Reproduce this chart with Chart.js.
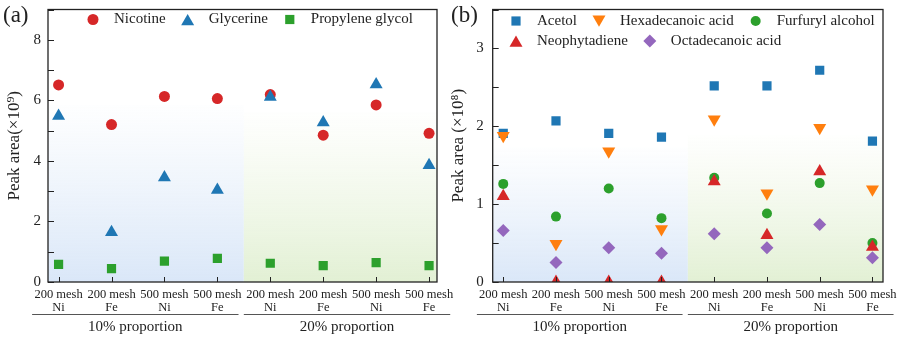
<!DOCTYPE html>
<html><head><meta charset="utf-8">
<script src="https://cdn.jsdelivr.net/npm/chart.js@4/dist/chart.umd.min.js"></script>
<style>
html,body{margin:0;padding:0;background:#fff;width:897px;height:337px;overflow:hidden}
#wa{position:absolute;left:0;top:0;width:462px;height:337px;z-index:1}
#wb{position:absolute;left:448px;top:0;width:449px;height:337px;z-index:2}
canvas{display:block}
</style></head><body>
<div id="wa"><canvas id="ca" width="462" height="337"></canvas></div>
<div id="wb"><canvas id="cb" width="449" height="337"></canvas></div>
<script>
// ---------- data ----------
const meshes = ['200 mesh','200 mesh','500 mesh','500 mesh','200 mesh','200 mesh','500 mesh','500 mesh'];
const metals = ['Ni','Fe','Ni','Fe','Ni','Fe','Ni','Fe'];
const groups = ['10% proportion','20% proportion'];

const nicotine        = [6.51,5.20,6.13,6.06,6.19,4.85,5.85,4.91];
const glycerine       = [5.48,1.64,3.45,3.04,6.11,5.27,6.52,3.86];
const propyleneGlycol = [0.58,0.44,0.69,0.78,0.62,0.54,0.64,0.54];

const acetol        = [1.91,2.07,1.91,1.86,2.52,2.52,2.72,1.81];
const hexadecanoic  = [1.88,0.49,1.68,0.68,2.09,1.14,1.98,1.19];
const furfuryl      = [1.26,0.84,1.20,0.82,1.34,0.88,1.27,0.50];
const neophytadiene = [1.10,0,0,0,1.29,0.60,1.42,0.45];
const octadecanoic  = [0.66,0.25,0.44,0.37,0.62,0.44,0.74,0.31];

const yTicksA = [0,1,2,3,4,5,6,7,8,9];
const yLabelsA = [0,2,4,6,8];
const yTicksB = [0,0.5,1,1.5,2,2.5,3,3.5];
const yLabelsB = [0,1,2,3];

// ---------- helpers ----------
const FONT = '"Liberation Serif","Times New Roman",serif';
const TXT = '#222';
Chart.defaults.font.family = FONT;
Chart.defaults.color = TXT;

function drawMarker(ctx, style, r, rot, color, x, y){
  ctx.save();
  ctx.fillStyle = color;
  ctx.translate(x, y);
  ctx.rotate((rot||0)*Math.PI/180);
  ctx.beginPath();
  if (style === 'circle') {
    ctx.arc(0,0,r,0,Math.PI*2);
  } else if (style === 'triangle') {
    ctx.moveTo(0,-r);
    ctx.lineTo(r*Math.sin(Math.PI/3), r*0.5);
    ctx.lineTo(-r*Math.sin(Math.PI/3), r*0.5);
    ctx.closePath();
  } else if (style === 'rect') {
    const s = r*Math.SQRT1_2;
    ctx.rect(-s,-s,2*s,2*s);
  } else if (style === 'rectRot') {
    ctx.moveTo(0,-r); ctx.lineTo(r,0); ctx.lineTo(0,r); ctx.lineTo(-r,0); ctx.closePath();
  }
  ctx.fill();
  ctx.restore();
}

const decorPlugin = {
  id: 'decor',
  beforeDatasetsDraw(chart, args, o) {
    const {ctx, chartArea: ca, scales: {x, y}} = chart;
    ctx.save();
    o.bands.forEach(b => {
      const x0 = x.getPixelForValue(b.from === null ? x.min : b.from);
      const x1 = x.getPixelForValue(b.to === null ? x.max : b.to);
      const yt = y.getPixelForValue(b.top);
      const g = ctx.createLinearGradient(0, yt, 0, ca.bottom);
      g.addColorStop(0, b.c0); g.addColorStop(1, b.c1);
      ctx.fillStyle = g;
      ctx.fillRect(x0, yt, x1 - x0, ca.bottom - yt);
    });
    ctx.restore();
  },
  afterDatasetsDraw(chart, args, o) {
    const {ctx, chartArea: ca, scales: {x, y}} = chart;
    ctx.save();
    ctx.strokeStyle = '#222';
    ctx.lineWidth = 1.3;
    ctx.strokeRect(ca.left, ca.top, ca.width, ca.height);
    ctx.lineWidth = 1;
    ctx.beginPath();
    y.ticks.forEach(t => {
      const py = Math.round(y.getPixelForValue(t.value)) + 0.5;
      ctx.moveTo(ca.left, py); ctx.lineTo(ca.left + 6, py);
    });
    x.ticks.forEach(t => {
      const px = Math.round(x.getPixelForValue(t.value)) + 0.5;
      ctx.moveTo(px, ca.bottom); ctx.lineTo(px, ca.bottom - 5);
    });
    ctx.stroke();
    // group lines + labels
    ctx.strokeStyle = '#555';
    ctx.fillStyle = TXT;
    ctx.font = '15px ' + FONT;
    ctx.textAlign = 'center';
    ctx.textBaseline = 'middle';
    groups.forEach((gname, gi) => {
      const first = gi * 4, last = gi * 4 + 3;
      const xa = x.getPixelForValue(first - 0.5), xb = x.getPixelForValue(last + 0.4);
      const ly = Math.round(ca.bottom + 32) + 0.5;
      ctx.beginPath(); ctx.moveTo(xa, ly); ctx.lineTo(xb, ly); ctx.stroke();
      ctx.fillText(gname, (xa + xb) / 2, ca.bottom + 45);
    });
    // panel label
    ctx.textAlign = 'left';
    ctx.font = '23px ' + FONT;
    ctx.fillText(o.panel, o.panelX, 16);
    // legend
    ctx.font = '15px ' + FONT;
    const ds = chart.data.datasets;
    let idx = 0;
    o.rows.forEach((n, ri) => {
      let lx = ca.left + o.legX;
      const ly = ca.top + o.legY + ri * 20;
      for (let k = 0; k < n; k++, idx++) {
        const d = ds[idx];
        let my = ly;
        if (d.pointStyle === 'triangle') my += (d.rotation ? -1 : 1) * d.pointRadius / 4;
        drawMarker(ctx, d.pointStyle, d.pointRadius, d.rotation, d.backgroundColor, lx, my);
        ctx.fillStyle = TXT;
        ctx.fillText(d.label, lx + 21, ly);
        lx += 21 + ctx.measureText(d.label).width + 22;
      }
    });
    ctx.restore();
  }
};

function ds(label, vals, style, r, color, rot, order) {
  return {
    label, data: vals.map((v, i) => ({x: i, y: v})),
    pointStyle: style, pointRadius: r, pointHoverRadius: r, rotation: rot || 0,
    backgroundColor: color, borderColor: color, borderWidth: 0, showLine: false, order
  };
}

function makeChart(id, datasets, p) {
  return new Chart(document.getElementById(id), {
    type: 'scatter',
    data: {datasets},
    options: {
      responsive: false, animation: false, devicePixelRatio: 1,
      layout: {padding: {top: 9.5, right: p.padRight, left: 0, bottom: 0}},
      plugins: {
        legend: {display: false}, tooltip: {enabled: false},
        decor: p.decor
      },
      scales: {
        x: {
          type: 'linear', min: p.xmin, max: p.xmax,
          afterBuildTicks: s => { s.ticks = meshes.map((_, i) => ({value: i})); },
          afterFit: s => { s.height = 55; s.paddingLeft = 0; s.paddingRight = 0; },
          grid: {display: false, drawTicks: false},
          border: {display: false},
          ticks: {
            autoSkip: false, maxRotation: 0, minRotation: 0, padding: 6, color: TXT,
            font: {size: 12.5, lineHeight: 1.05},
            callback: v => [meshes[v], metals[v]]
          }
        },
        y: {
          type: 'linear', min: 0, max: p.ymax,
          afterBuildTicks: s => { s.ticks = p.yTicks.map(v => ({value: v})); },
          afterFit: s => { s.width = p.yWidth; s.paddingTop = 0; s.paddingBottom = 0; },
          grid: {display: false, drawTicks: false},
          border: {display: false},
          ticks: {
            padding: p.yPad, color: TXT, font: {size: 15},
            callback: v => p.yLabels.includes(v) ? String(v) : ''
          },
          title: {
            display: true, text: p.yTitle, color: TXT,
            font: {size: 17, lineHeight: 1.2}, padding: {top: p.titlePad, bottom: 0}
          }
        }
      }
    },
    plugins: [decorPlugin]
  });
}

makeChart('ca', [
  ds('Nicotine', nicotine, 'circle', 5.5, '#d62728', 0, 3),
  ds('Glycerine', glycerine, 'triangle', 7.5, '#1f77b4', 0, 2),
  ds('Propylene glycol', propyleneGlycol, 'rect', 6.5, '#2ca02c', 0, 1)
], {
  padRight: 25, xmin: -0.2, xmax: 7.15, ymax: 9, yTicks: yTicksA, yLabels: yLabelsA,
  yWidth: 48, yPad: 7, yTitle: 'Peak area(×10⁹)', titlePad: 4,
  decor: {
    panel: '(a)', panelX: 3, rows: [3], legX: 45, legY: 10,
    bands: [
      {from: null, to: 3.5, top: 5.85, c0: 'rgba(225,236,249,0.04)', c1: 'rgba(218,231,248,1)'},
      {from: 3.5, to: null, top: 5.6, c0: 'rgba(234,244,222,0.04)', c1: 'rgba(226,240,212,1)'}
    ]
  }
});

makeChart('cb', [
  ds('Acetol', acetol, 'rect', 6.5, '#1f77b4', 0, 5),
  ds('Hexadecanoic acid', hexadecanoic, 'triangle', 7.5, '#ff7f0e', 180, 4),
  ds('Furfuryl alcohol', furfuryl, 'circle', 5, '#2ca02c', 0, 3),
  ds('Neophytadiene', neophytadiene, 'triangle', 7.5, '#d62728', 0, 2),
  ds('Octadecanoic acid', octadecanoic, 'rectRot', 6.5, '#9467bd', 0, 1)
], {
  padRight: 14, xmin: -0.2, xmax: 7.2, ymax: 3.5, yTicks: yTicksB, yLabels: yLabelsB,
  yWidth: 44.7, yPad: 9, yTitle: 'Peak area (×10⁸)', titlePad: 0,
  decor: {
    panel: '(b)', panelX: 3, rows: [3, 2], legX: 23.3, legY: 11.5,
    bands: [
      {from: null, to: 3.5, top: 1.73, c0: 'rgba(225,236,249,0.04)', c1: 'rgba(218,231,248,1)'},
      {from: 3.5, to: null, top: 1.88, c0: 'rgba(234,244,222,0.04)', c1: 'rgba(226,240,212,1)'}
    ]
  }
});
</script>
</body></html>
